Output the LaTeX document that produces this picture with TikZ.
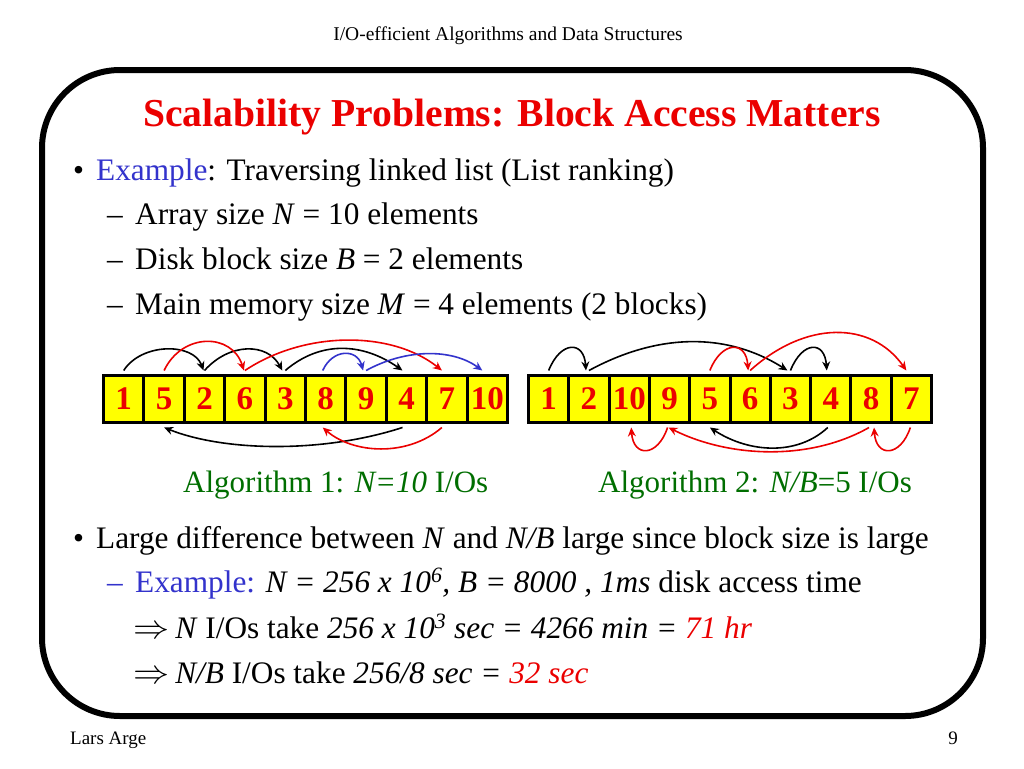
\documentclass[tikz,border=0pt]{standalone}
\usepackage{graphicx}
\usepackage{fontspec}
\setmainfont{Liberation Serif}
\usetikzlibrary{arrows.meta}
\definecolor{exblue}{RGB}{51,51,204}
\definecolor{algreen}{RGB}{0,110,0}
\definecolor{tred}{RGB}{235,0,0}
\definecolor{cellyellow}{RGB}{255,255,0}
\newcommand{\impl}{\raisebox{0pt}{\scalebox{1.45}[1.35]{$\Rightarrow$}}\hspace{6pt}}
\tikzset{
  txt/.style={anchor=base west,inner sep=0pt,font=\fontsize{31.3}{36}\selectfont},
  cell/.style={draw=black,line width=3pt,fill=cellyellow,minimum height=47pt,inner sep=0pt,outer sep=0pt,text=tred,font=\fontsize{33}{36}\selectfont\bfseries},
  cellA/.style={cell,minimum width=40.4pt},
  cellB/.style={cell,minimum width=40.3pt},
  arr/.style={line width=1.6pt,-{Stealth[length=9pt,width=8pt]}},
  frame/.style={line width=6pt,rounded corners=78pt},
  small/.style={inner sep=0pt,font=\fontsize{19.5}{22}\selectfont}
}
\begin{document}
\begin{tikzpicture}[x=1pt,y=-1pt]
\useasboundingbox (0,0) rectangle (1024,768);
\fill[white] (0,0) rectangle (1024,768);

% header and footer
\node[small,anchor=base] (hdr) at (508,41) {I/O-efficient Algorithms and Data Structures};
\node[small,anchor=base west,font=\fontsize{19}{22}\selectfont] (ftl) at (70,744) {Lars Arge};
\node[small,anchor=base east,font=\fontsize{19}{22}\selectfont] (ftr) at (958,744) {9};

% frame
\draw[frame] (42,70) rectangle (983,716);

% title
\node[anchor=base,inner sep=0pt,text=tred,font=\fontsize{39.6}{44}\selectfont\bfseries] (title) at (512,126) {Scalability Problems: Block Access Matters};

% bullet text
\node[txt] (b1) at (73,180) {•};
\node[txt] (l1) at (96,180) {\textcolor{exblue}{Example}: Traversing linked list (List ranking)};
\node[txt] (d2) at (107,224) {–};
\node[txt] (l2) at (135,224) {Array size \textit{N} = 10 elements};
\node[txt] (d3) at (107,269) {–};
\node[txt] (l3) at (135,269) {Disk block size \textit{B} = 2 elements};
\node[txt] (d4) at (107,314) {–};
\node[txt] (l4) at (135,314) {Main memory size \textit{M} = 4 elements (2 blocks)};

% arrays
\foreach \v [count=\i from 0] in {1,5,2,6,3,8,9,4,7,10}
  \node[cellA] (A\i) at (103.5+40.4*\i+20.2,399) {\v};
\foreach \v [count=\i from 0] in {1,2,10,9,5,6,3,4,8,7}
  \node[cellB] (B\i) at (528.5+40.3*\i+20.15,399) {\v};

% top / bottom attachment points
\foreach \i in {0,...,9}{
  \coordinate (At\i) at ([yshift=5pt]A\i.north);
  \coordinate (Ab\i) at ([yshift=-5pt]A\i.south);
  \coordinate (Bt\i) at ([yshift=5pt]B\i.north);
  \coordinate (Bb\i) at ([yshift=-5pt]B\i.south);
}

% Algorithm 1 arrows
\draw[arr,black] (At0) .. controls +(18,-28) and +(-10,-28) .. ([xshift=-1pt]At2);
\draw[arr,black] (At2) .. controls +(25,-28) and +(-15,-28) .. ([xshift=-3pt]At4);
\draw[arr,black] (At4) .. controls +(35,-30) and +(-40,-28) .. ([xshift=-4pt]At7);
\draw[arr,tred] (At1) .. controls +(18,-38) and +(-12,-38) .. ([xshift=-1pt]At3);
\draw[arr,tred] (At3) .. controls +(60,-40) and +(-50,-40) .. ([xshift=-5pt]At8);
\draw[arr,exblue] ([xshift=-3pt]At5) .. controls +(10,-22) and +(-6,-22) .. ([xshift=-3pt]At6);
\draw[arr,exblue] (At6) .. controls +(40,-22) and +(-30,-22) .. ([xshift=-5pt]At9);
\draw[arr,black] ([xshift=-4pt]Ab7) .. controls +(-80,26) and +(60,24) .. (Ab1);
\draw[arr,tred] ([xshift=-5pt]Ab8) .. controls +(-35,30) and +(30,26) .. ([xshift=-3pt]Ab5);

% Algorithm 2 arrows
\draw[arr,black] (Bt0) .. controls +(12,-30) and +(-2,-30) .. ([xshift=-3pt]Bt1);
\draw[arr,black] (Bt1) .. controls +(70,-38) and +(-60,-38) .. ([xshift=-3pt]Bt6);
\draw[arr,black] (Bt6) .. controls +(12,-30) and +(-2,-30) .. ([xshift=-4pt]Bt7);
\draw[arr,tred] (Bt4) .. controls +(12,-30) and +(-2,-30) .. ([xshift=-2pt]Bt5);
\draw[arr,tred] (Bt5) .. controls +(55,-50) and +(-35,-50) .. ([xshift=-5pt]Bt9);
\draw[arr,tred] ([xshift=-2pt]Bb3) .. controls +(-10,30) and +(2,30) .. ([xshift=2pt]Bb2);
\draw[arr,tred] ([xshift=-2pt]Bb8) .. controls +(-60,34) and +(60,30) .. ([xshift=-1pt]Bb3);
\draw[arr,black] ([xshift=-3pt]Bb7) .. controls +(-30,28) and +(40,26) .. (Bb4);
\draw[arr,tred] ([xshift=-1pt]Bb9) .. controls +(-10,30) and +(2,30) .. ([xshift=3pt]Bb8);

% algorithm labels
\node[txt,text=algreen,font=\fontsize{31}{36}\selectfont] (alg1) at (183,492) {Algorithm 1: \textit{N=10} I/Os};
\node[txt,text=algreen,font=\fontsize{31}{36}\selectfont] (alg2) at (598,492) {Algorithm 2: \textit{N/B}=5 I/Os};

% lower bullets
\node[txt] (b5) at (73,548) {•};
\node[txt] (l5) at (96,548) {Large difference between \textit{N} and \textit{N/B} large since block size is large};
\node[txt,text=exblue] (d6) at (107,592) {–};
\node[txt] (l6) at (135,592) {\textcolor{exblue}{Example:} \textit{N = 256 x 10\textsuperscript{6}, B = 8000 , 1ms} disk access time};
\node[txt] (l7) at (133,638) {\impl\textit{N} I/Os take \textit{256 x 10\textsuperscript{3} sec = 4266 min =} \textcolor{tred}{\textit{71 hr}}};
\node[txt] (l8) at (133,683) {\impl\textit{N/B} I/Os take \textit{256/8 sec =} \textcolor{tred}{\textit{32 sec}}};
\end{tikzpicture}
\end{document}
